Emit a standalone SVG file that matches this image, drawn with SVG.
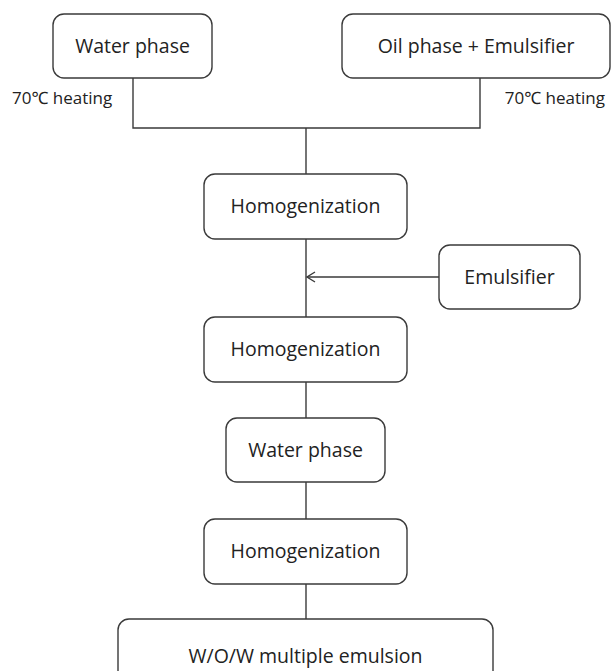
<svg xmlns="http://www.w3.org/2000/svg" width="613" height="671" viewBox="0 0 613 671">
<style>
.box{fill:#fff;stroke:#3a3a3a;stroke-width:1.4}
.t{font-family:"Open Sans","Noto Sans",sans-serif;font-size:19.5px;fill:#222;text-anchor:middle}
.s{font-family:"Open Sans","Noto Sans",sans-serif;font-size:17px;fill:#222}
.ln{fill:none;stroke:#3a3a3a;stroke-width:1.4}
</style>
<defs>
<marker id="arr" markerWidth="12" markerHeight="12" refX="9" refY="6" orient="auto" markerUnits="userSpaceOnUse">
<path d="M1,1 L9,6 L1,11" fill="none" stroke="#3a3a3a" stroke-width="1.4"/>
</marker>
</defs>
<rect width="613" height="671" fill="#fff"/>
<g id="connectors">
<path class="ln" d="M133,78 V128 H480 V78"/>
<path class="ln" d="M306,128 V174"/>
<path class="ln" d="M306,239 V317"/>
<path class="ln" d="M439,277 H307" marker-end="url(#arr)"/>
<path class="ln" d="M306,382 V418"/>
<path class="ln" d="M306,482 V519"/>
<path class="ln" d="M306,584 V619"/>
</g>
<g id="water1"><rect class="box" x="53" y="14" width="159" height="64" rx="11"/><text class="t" x="132.5" y="53">Water phase</text></g>
<g id="oil"><rect class="box" x="342" y="14" width="268" height="64" rx="11"/><text class="t" x="476" y="53">Oil phase + Emulsifier</text></g>
<text class="s" x="12" y="104">70℃ heating</text>
<text class="s" x="605" y="104" text-anchor="end">70℃ heating</text>
<g id="homog1"><rect class="box" x="204" y="174" width="203" height="65" rx="11"/><text class="t" x="305.5" y="213">Homogenization</text></g>
<g id="emulsifier"><rect class="box" x="439" y="245" width="141" height="64" rx="11"/><text class="t" x="509.5" y="284">Emulsifier</text></g>
<g id="homog2"><rect class="box" x="204" y="317" width="203" height="65" rx="11"/><text class="t" x="305.5" y="356">Homogenization</text></g>
<g id="water2"><rect class="box" x="226" y="418" width="159" height="64" rx="11"/><text class="t" x="305.5" y="457">Water phase</text></g>
<g id="homog3"><rect class="box" x="204" y="519" width="203" height="65" rx="11"/><text class="t" x="305.5" y="558">Homogenization</text></g>
<g id="wow"><rect class="box" x="118" y="619" width="375" height="66" rx="11"/><text class="t" x="305.5" y="663">W/O/W multiple emulsion</text></g>
</svg>
